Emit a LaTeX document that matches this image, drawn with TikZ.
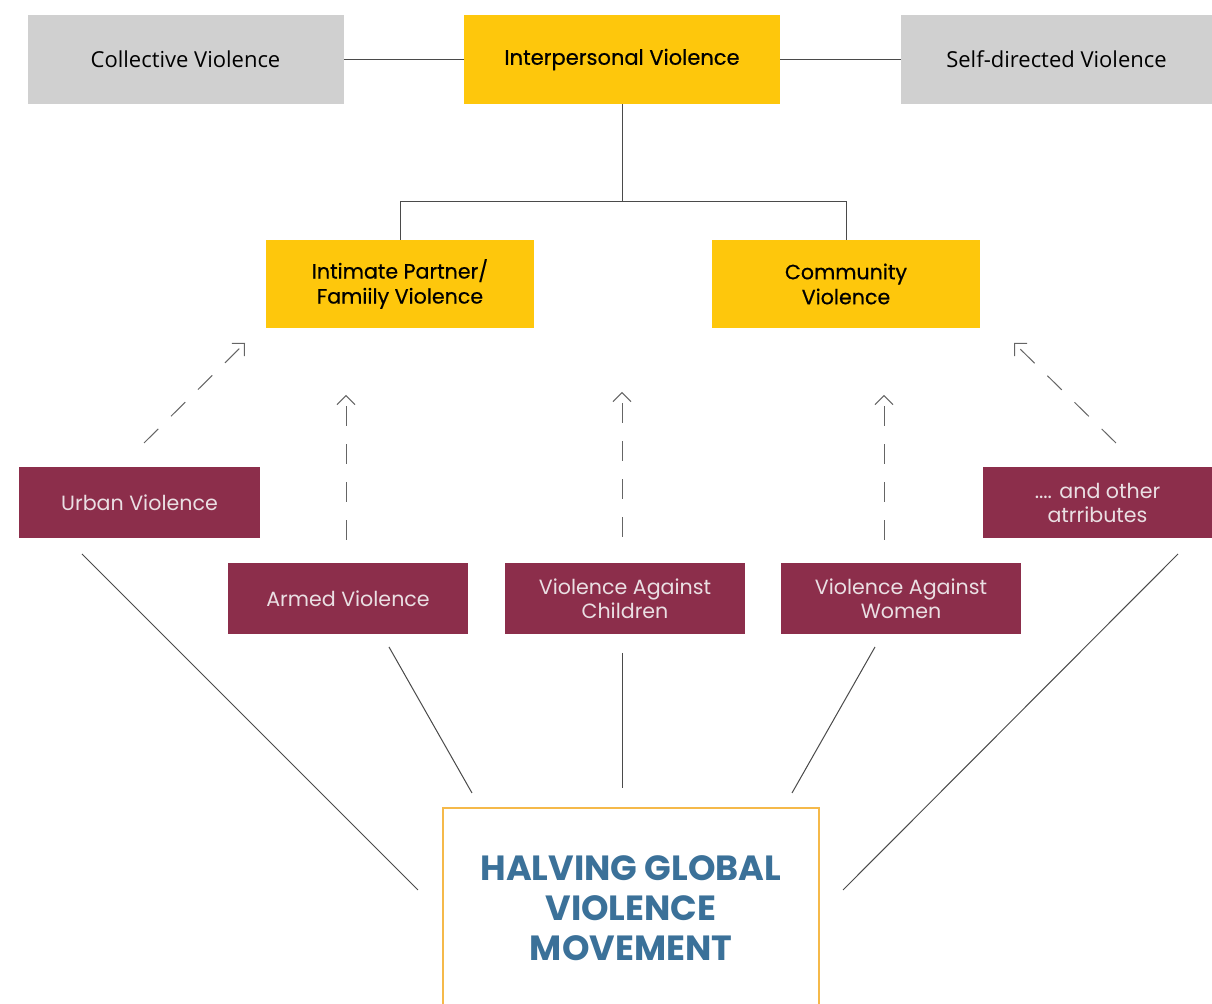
\documentclass[tikz,border=0pt]{standalone}
\usepackage{fontspec}
\setmainfont{Open Sans}
\newfontfamily\geofont{Poppins}
\newfontfamily\geomedium[FakeBold=0.5]{Poppins}
\usetikzlibrary{arrows.meta}

\definecolor{greybox}{HTML}{D0D0D0}
\definecolor{yellowbox}{HTML}{FEC70C}
\definecolor{maroonbox}{HTML}{8C2E4B}
\definecolor{maroontext}{HTML}{EADFE3}
\definecolor{titleblue}{HTML}{3B7199}
\definecolor{frameorange}{HTML}{F5B94A}
\definecolor{linegrey}{HTML}{4A4A4A}

\begin{document}
\begin{tikzpicture}[x=0.5pt,y=-0.5pt,
  typebox/.style={minimum width=158pt,minimum height=44.5pt,inner sep=0pt,align=center,font=\fontsize{11}{13}\selectfont},
  formbox/.style={fill=yellowbox,minimum width=134pt,minimum height=44pt,inner sep=0pt,align=center,font=\geomedium\fontsize{10.3}{12.5}\selectfont},
  attrbox/.style={fill=maroonbox,text=maroontext,minimum width=120pt,minimum height=35.5pt,inner sep=0pt,align=center,font=\geofont\fontsize{10.3}{12}\selectfont},
  link/.style={linegrey,line width=0.5pt},
  hint/.style={linegrey!85,line width=0.5pt,dash pattern=on 10pt off 9pt,-{Straight Barb[length=4.5pt,width=9pt]}}]
\useasboundingbox (0,0) rectangle (1212,1004);

% types of violence
\node[typebox,fill=greybox] (collective) at (185.5,59.5) {Collective Violence};
\node[typebox,fill=yellowbox,font=\geomedium\fontsize{10.5}{13}\selectfont] (inter) at (622,59.5) {Interpersonal Violence};
\node[typebox,fill=greybox,minimum width=155.5pt] (self) at (1056.5,59.5) {Self-directed Violence};

\draw[link] (collective) -- (inter);
\draw[link] (inter) -- (self);

% forms of interpersonal violence
\node[formbox] (intimate) at (400,284) {Intimate Partner/\\Famiily Violence};
\node[formbox] (community) at (846,284) {Community\\Violence};

\coordinate (split) at (622,202);
\draw[link] (inter.south) -- (split) -| (intimate.north);
\draw[link] (split) -| (community.north);

% attributes
\node[attrbox,minimum width=120.5pt] (urban) at (139.5,502.5) {Urban Violence};
\node[attrbox] (armed) at (348,599) {Armed Violence};
\node[attrbox] (children) at (625,599) {Violence Against\\Children};
\node[attrbox] (women) at (901,599) {Violence Against\\Women};
\node[attrbox,minimum width=114.5pt] (other) at (1097.5,502.5) {.... and other\\atrributes};

% movement
\node[draw=frameorange,line width=0.8pt,minimum width=188pt,minimum height=100pt,inner sep=0pt,
  align=center,text=titleblue,font=\geofont\bfseries\fontsize{17.5}{20}\selectfont]
  (goal) at (631,908) {HALVING GLOBAL\\VIOLENCE\\MOVEMENT};

% ends of the connectors
\foreach \n/\x/\y in {urbanup/144/443, intimatein/245/343, armedup/346/540, armedin/346/395,
  childup/622/537, childin/622/392, womenup/884/540, womenin/884/395,
  otherup/1116/443, communityin/1014/343}
  \coordinate (\n) at (\x,\y);
\foreach \n/\x/\y in {urbandown/82/554, goalurban/418/890, armeddown/389/647, goalarmed/472/793,
  childdown/622/653, goalchild/622/788, womendown/875/647, goalwomen/792/793,
  otherdown/1178/554, goalother/843/890}
  \coordinate (\n) at (\x,\y);

\foreach \a/\b in {urbanup/intimatein, armedup/armedin, childup/childin, womenup/womenin, otherup/communityin}
  \draw[hint] (\a) -- (\b);

\foreach \a/\b in {urbandown/goalurban, armeddown/goalarmed, childdown/goalchild, womendown/goalwomen, otherdown/goalother}
  \draw[link] (\a) -- (\b);
\end{tikzpicture}
\end{document}
